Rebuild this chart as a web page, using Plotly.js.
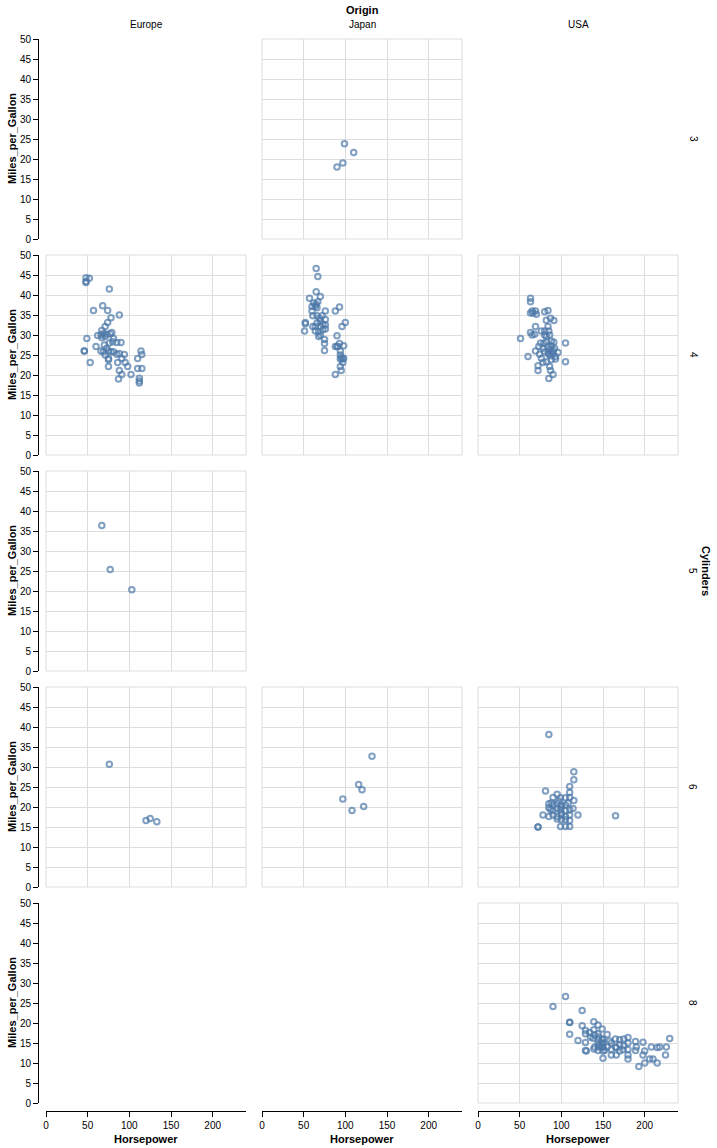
<!DOCTYPE html>
<html>
<head>
<meta charset="utf-8">
<script src="https://cdn.plot.ly/plotly-3.0.1.min.js"></script>
<style>html,body{margin:0;padding:0;background:#fff}#chart{width:717px;height:1148px}</style>
</head>
<body>
<div id="chart"></div>
<script>
// ---- data (Horsepower, Miles_per_Gallon) per facet cell ----
const origins = ['Europe', 'Japan', 'USA'];
const cylinders = ['3', '4', '5', '6', '8'];
const xTicks = [0, 50, 100, 150, 200];
const yTicks = [0, 5, 10, 15, 20, 25, 30, 35, 40, 45, 50];

const japan3 = [[90,18],[97,19],[110,21.6],[99,23.8]];

const europe4 = [[48,43.1],[48,44.3],[52,44.2],[48,43.4],[76,41.5],[57,36.1],[68,37.3],[74,36.1],[88,35],[78,34.3],
  [74,33.1],[71,32.1],[67,31.1],[66,30],[69,30.4],[71,29.6],[67,29.3],[73,30.2],[77,30.3],[79,30.6],[49,29.1],[62,29.9],
  [81,29.1],[85,28.1],[90,28.1],[76,28],[80,28.3],[60,27.1],[70,27.5],[73,26.7],[46,26],[46,26],[66,26],[69,25.8],[75,26],
  [78,25.8],[81,25.8],[71,25],[85,25.2],[88,25.4],[94,25.1],[114,26],[115,25.1],[53,23.1],[75,24.1],[75,23.8],[86,23.1],
  [91,24.1],[95,23.1],[98,22.1],[110,24.1],[110,21.6],[115,21.6],[75,22.1],[88,21.1],[91,20.1],[102,20.1],[87,19],
  [112,19.2],[112,18.5],[112,18]];

const japan4 = [[65,46.6],[67,44.6],[65,40.8],[57,39.2],[70,39.6],[62,38],[65,37.7],[67,38.3],[64,37.2],[66,36.8],
  [60,37.1],[60,36],[76,36],[88,36],[93,37],[61,34.8],[66,34.8],[69,34.2],[72,34.8],[70,33.5],[76,33.9],[52,33.1],
  [52,32.8],[51,31],[61,32.1],[64,32.1],[66,33],[70,32.1],[73,32.7],[76,32.5],[76,31.5],[64,31],[68,30.8],[70,30],
  [73,31.3],[96,32.1],[100,33.1],[68,29.6],[90,29.8],[75,28.9],[75,27.9],[75,26.1],[88,27.1],[90,27.1],[91,27.1],
  [93,27.9],[98,27.3],[94,26],[94,25],[95,24.3],[98,24.2],[97,24],[94,24],[97,23.1],[94,22.1],[95,21.1],[88,20.1]];

const usa4 = [[63,39.2],[63,38.3],[65,36],[69,36],[63,35.5],[66,35.5],[70,35.2],[80,35.8],[84,36.1],[82,33.7],[87,34.2],
  [91,33.6],[69,32.1],[84,32.1],[63,30.6],[65,30],[68,30.2],[76,31],[80,31],[85,31],[51,29.1],[80,30],[82,29.6],[86,30],
  [105,28],[75,28],[79,27.9],[82,28.3],[88,28.5],[91,28.2],[73,27.1],[78,26.7],[84,27.1],[88,27.3],[92,26.7],[69,26],
  [74,25.2],[80,25.8],[85,25.2],[90,25.4],[96,25.6],[93,24.6],[60,24.6],[76,24.2],[82,23.3],[88,23.8],[93,24],[105,23.3],
  [72,22.3],[72,21.1],[78,23.1],[86,22.1],[87,21.1],[90,20.1],[85,19.1],[86,26.5],[88,25.8],[90,26.2],[84,25.5],[87,24.8]];

const europe5 = [[67,36.4],[77,25.4],[103,20.3]];

const europe6 = [[76,30.7],[120,16.6],[125,17.1],[133,16.3]];

const japan6 = [[132,32.7],[116,25.6],[120,24.3],[97,22],[122,20.1],[108,19.1]];

const usa6 = [[85,38.1],[115,28.8],[115,26.8],[110,25.1],[110,23.6],[110,22.4],[115,21.6],[81,24],[95,23.2],[90,22.4],
  [99,22.3],[105,22.3],[85,20.8],[88,21],[90,20.5],[95,20.8],[100,20.5],[105,20.5],[108,21],[85,19.8],[87,19.4],[90,19.1],
  [95,19.6],[99,19.3],[105,19.1],[110,19.3],[114,19.6],[78,18],[85,17.6],[90,18],[95,17.6],[100,18],[105,17.6],[110,18],
  [120,18],[95,17],[100,16.8],[105,16.8],[110,16.6],[99,15.1],[105,15.1],[110,15.1],[72,15],[72,15],[165,17.8],[100,20],
  [100,18.5],[97,21.5]];

const usa8 = [[105,26.6],[90,24.1],[125,23.1],[110,20.1],[110,20.2],[125,19.3],[139,20.3],[144,19.5],[149,18.5],[139,18.3],
  [129,18.1],[134,17.6],[129,17.3],[144,17.3],[110,17.2],[155,17.1],[120,15.6],[129,15.1],[138,16.2],[144,15.8],[149,15.8],
  [144,14.8],[129,13.1],[130,13],[139,13.5],[144,13.1],[149,14],[152,13.2],[149,15],[146,14.3],[150,11.2],[160,13.4],
  [160,12],[166,13.8],[166,12],[170,15.8],[170,14.6],[174,13.3],[175,14.3],[180,16.4],[180,12],[180,11],[180,13.4],
  [189,15.4],[189,13.1],[198,15.2],[198,12],[193,9.1],[200,10],[206,11],[210,11],[215,10],[215,13.9],[218,14],[226,14],
  [225,12],[230,16.1],[150,14],[150,15],[145,14],[140,14],[150,13],[155,14],[160,15],[165,14],[170,13],[175,16],[180,15],
  [190,14],[165,16],[135,16.5],[140,17],[150,16],[145,16.5],[158,15.5],[200,13],[208,14]];

// cell lookup built from the arrays above: rows = cylinders, cols = origins
const cells = [
  [null,    japan3, null],
  [europe4, japan4, usa4],
  [europe5, null,   null],
  [europe6, japan6, usa6],
  [null,    null,   usa8]
];

// ---- geometry ----
const W = 717, H = 1148;
const colLeft = [46, 262, 478];
const rowTop = [39, 255, 471, 687, 903];
const CW = 200, CH = 200;
const yAxisLineX = 38;
const xAxisLineY = 1111;
const FONT = 'Liberation Sans, Arial, Helvetica, sans-serif';
const AXIS_COLOR = '#000';

const traces = [];
const layout = {
  width: W, height: H,
  margin: {l: 0, r: 0, t: 0, b: 0, pad: 0},
  paper_bgcolor: '#fff', plot_bgcolor: 'rgba(0,0,0,0)',
  showlegend: false,
  font: {family: FONT, size: 10, color: '#000'},
  shapes: [],
  annotations: []
};

for (let r = 0; r < cylinders.length; r++) {
  for (let c = 0; c < origins.length; c++) {
    const k = r * origins.length + c + 1;
    const xs = 'x' + k, ys = 'y' + k;
    const pts = cells[r][c];
    const has = !!pts;
    const showX = (r === cylinders.length - 1);
    const showY = (c === 0);

    traces.push({
      type: 'scatter', mode: 'markers',
      x: has ? pts.map(p => p[0]) : [],
      y: has ? pts.map(p => p[1]) : [],
      xaxis: xs, yaxis: ys,
      marker: {symbol: 'circle-open', size: 5.5, color: '#4c78a8', opacity: 0.7,
               line: {width: 2, color: '#4c78a8'}},
      hoverinfo: 'x+y'
    });

    const xa = {
      domain: [colLeft[c] / W, (colLeft[c] + CW) / W],
      range: [0, 240], fixedrange: true,
      tickvals: xTicks, ticktext: xTicks.map(String),
      showgrid: has, gridcolor: '#ddd', gridwidth: 1, zeroline: false,
      showticklabels: showX, ticks: showX ? 'outside' : '', ticklen: 5, tickcolor: AXIS_COLOR,
      showline: showX, linecolor: AXIS_COLOR, linewidth: 1,
      tickfont: {family: FONT, size: 10, color: '#000'},
      visible: has || showX
    };
    if (showX) { xa.anchor = 'free'; xa.position = 1 - xAxisLineY / H; }
    else { xa.anchor = ys; }

    const ya = {
      domain: [1 - (rowTop[r] + CH) / H, 1 - rowTop[r] / H],
      range: [0, 50], fixedrange: true,
      tickvals: yTicks, ticktext: yTicks.map(String),
      showgrid: has, gridcolor: '#ddd', gridwidth: 1, zeroline: false,
      showticklabels: showY, ticks: showY ? 'outside' : '', ticklen: 5, tickcolor: AXIS_COLOR,
      showline: showY, linecolor: AXIS_COLOR, linewidth: 1,
      tickfont: {family: FONT, size: 10, color: '#000'},
      visible: has || showY
    };
    if (showY) { ya.anchor = 'free'; ya.position = yAxisLineX / W; }
    else { ya.anchor = xs; }

    layout['xaxis' + k] = xa;
    layout['yaxis' + k] = ya;

    if (has) {
      layout.shapes.push({type: 'rect', xref: xs + ' domain', yref: ys + ' domain',
        x0: 0, x1: 1, y0: 0, y1: 1, line: {color: '#ddd', width: 1}, fillcolor: 'rgba(0,0,0,0)', layer: 'above'});
    }
  }
}

// ---- titles and facet headers ----
const ann = layout.annotations;
const gridCenterX = (colLeft[0] + colLeft[2] + CW) / 2;
ann.push({text: '<b>Origin</b>', x: gridCenterX / W, y: 1 - 10 / H, xref: 'paper', yref: 'paper',
  showarrow: false, xanchor: 'center', yanchor: 'middle', font: {family: FONT, size: 11, color: '#000'}});
origins.forEach((o, c) => {
  ann.push({text: o, x: (colLeft[c] + CW / 2) / W, y: 1 - 24 / H, xref: 'paper', yref: 'paper',
    showarrow: false, xanchor: 'center', yanchor: 'middle', font: {family: FONT, size: 10, color: '#000'}});
  ann.push({text: '<b>Horsepower</b>', x: (colLeft[c] + CW / 2) / W, y: 1 - 1139 / H, xref: 'paper', yref: 'paper',
    showarrow: false, xanchor: 'center', yanchor: 'middle', font: {family: FONT, size: 11, color: '#000'}});
});
cylinders.forEach((cy, r) => {
  const cy0 = 1 - (rowTop[r] + CH / 2) / H;
  ann.push({text: cy, x: 693 / W, y: cy0, xref: 'paper', yref: 'paper', textangle: 90,
    showarrow: false, xanchor: 'center', yanchor: 'middle', font: {family: FONT, size: 10, color: '#000'}});
  ann.push({text: '<b>Miles_per_Gallon</b>', x: 12 / W, y: cy0, xref: 'paper', yref: 'paper', textangle: -90,
    showarrow: false, xanchor: 'center', yanchor: 'middle', font: {family: FONT, size: 11, color: '#000'}});
});
ann.push({text: '<b>Cylinders</b>', x: 706 / W, y: 1 - ((rowTop[0] + rowTop[4] + CH) / 2) / H, xref: 'paper', yref: 'paper',
  textangle: 90, showarrow: false, xanchor: 'center', yanchor: 'middle', font: {family: FONT, size: 11, color: '#000'}});

Plotly.newPlot('chart', traces, layout, {displayModeBar: false, staticPlot: true});
</script>
</body>
</html>
